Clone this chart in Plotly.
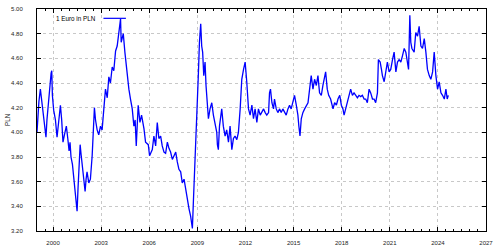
import plotly.graph_objects as go

# Decimal year and EUR/PLN rate
year = [
    1999.00, 1999.06, 1999.12, 1999.21, 1999.27, 1999.33, 1999.40, 1999.50, 1999.56, 1999.62,
    1999.69, 1999.75, 1999.81, 1999.88, 1999.92, 1999.96, 2000.04, 2000.15, 2000.25, 2000.31,
    2000.40, 2000.46, 2000.54, 2000.62, 2000.71, 2000.83, 2000.92, 2001.00, 2001.06, 2001.12,
    2001.21, 2001.29, 2001.38, 2001.46, 2001.50, 2001.56, 2001.62, 2001.69, 2001.75, 2001.83,
    2001.92, 2002.00, 2002.06, 2002.12, 2002.23, 2002.33, 2002.44, 2002.52, 2002.58, 2002.65,
    2002.75, 2002.85, 2002.96, 2003.06, 2003.17, 2003.27, 2003.38, 2003.48, 2003.58, 2003.69,
    2003.79, 2003.90, 2004.00, 2004.10, 2004.17, 2004.21, 2004.25, 2004.33, 2004.38, 2004.48,
    2004.62, 2004.73, 2004.83, 2004.94, 2005.04, 2005.12, 2005.19, 2005.31, 2005.42, 2005.52,
    2005.67, 2005.77, 2005.94, 2006.02, 2006.19, 2006.29, 2006.40, 2006.50, 2006.60, 2006.71,
    2006.81, 2006.92, 2007.02, 2007.13, 2007.23, 2007.33, 2007.44, 2007.54, 2007.65, 2007.75,
    2007.85, 2007.96, 2008.06, 2008.17, 2008.27, 2008.38, 2008.48, 2008.58, 2008.65, 2008.69,
    2008.75, 2008.85, 2008.90, 2008.96, 2009.00, 2009.06, 2009.13, 2009.17, 2009.21, 2009.27,
    2009.33, 2009.40, 2009.48, 2009.54, 2009.62, 2009.69, 2009.79, 2009.90, 2010.00, 2010.10,
    2010.21, 2010.25, 2010.31, 2010.38, 2010.42, 2010.52, 2010.62, 2010.73, 2010.83, 2010.94,
    2011.04, 2011.15, 2011.25, 2011.35, 2011.46, 2011.56, 2011.67, 2011.77, 2011.88, 2011.98,
    2012.08, 2012.19, 2012.29, 2012.40, 2012.50, 2012.60, 2012.71, 2012.81, 2012.92, 2013.02,
    2013.13, 2013.23, 2013.33, 2013.44, 2013.50, 2013.56, 2013.65, 2013.75, 2013.81, 2013.92,
    2014.02, 2014.13, 2014.23, 2014.33, 2014.44, 2014.54, 2014.65, 2014.75, 2014.85, 2014.96,
    2015.06, 2015.17, 2015.27, 2015.33, 2015.40, 2015.48, 2015.58, 2015.69, 2015.79, 2015.90,
    2016.00, 2016.10, 2016.21, 2016.31, 2016.42, 2016.52, 2016.62, 2016.73, 2016.83, 2016.94,
    2017.00, 2017.10, 2017.19, 2017.31, 2017.46, 2017.56, 2017.67, 2017.77, 2017.88, 2017.98,
    2018.08, 2018.15, 2018.25, 2018.35, 2018.46, 2018.56, 2018.67, 2018.77, 2018.88, 2018.98,
    2019.08, 2019.19, 2019.29, 2019.40, 2019.50, 2019.60, 2019.71, 2019.81, 2019.92, 2020.02,
    2020.12, 2020.23, 2020.29, 2020.40, 2020.48, 2020.54, 2020.65, 2020.75, 2020.85, 2020.96,
    2021.06, 2021.17, 2021.27, 2021.38, 2021.48, 2021.58, 2021.69, 2021.79, 2021.90, 2022.00,
    2022.10, 2022.17, 2022.25, 2022.31, 2022.38, 2022.52, 2022.62, 2022.73, 2022.83, 2022.94,
    2023.04, 2023.15, 2023.25, 2023.35, 2023.46, 2023.56, 2023.67, 2023.77, 2023.875, 2023.98,
    2024.08, 2024.19, 2024.29, 2024.40, 2024.50, 2024.58, 2024.65,
]
eur_pln = [
    4.00, 4.18, 4.25, 4.35, 4.28, 4.20, 4.12, 4.02, 3.96, 4.10,
    4.22, 4.30, 4.38, 4.48, 4.50, 4.30, 4.18, 4.10, 3.96, 4.05,
    4.15, 4.22, 4.10, 3.92, 3.98, 4.05, 3.95, 3.85, 3.92, 3.80,
    3.74, 3.62, 3.55, 3.42, 3.36, 3.55, 3.80, 3.90, 3.82, 3.72,
    3.58, 3.52, 3.62, 3.68, 3.59, 3.62, 3.81, 4.05, 4.20, 4.10,
    4.02, 3.98, 4.05, 4.02, 4.20, 4.35, 4.28, 4.45, 4.40, 4.53,
    4.50, 4.66, 4.70, 4.80, 4.84, 4.92, 4.73, 4.78, 4.80, 4.65,
    4.46, 4.35, 4.27, 4.19, 4.05, 4.10, 3.89, 4.22, 4.08, 4.14,
    4.03, 3.92, 3.90, 3.81, 3.86, 3.97, 3.89, 4.08, 3.95, 3.97,
    3.89, 3.84, 3.83, 3.92, 3.87, 3.84, 3.78, 3.81, 3.84, 3.76,
    3.70, 3.68, 3.59, 3.62, 3.54, 3.43, 3.38, 3.32, 3.27, 3.22,
    3.43, 3.75, 3.92, 4.05, 4.16, 4.46, 4.73, 4.82, 4.88, 4.70,
    4.65, 4.46, 4.57, 4.38, 4.19, 4.11, 4.19, 4.24, 4.14, 4.08,
    4.00, 3.90, 3.86, 4.05, 4.11, 4.19, 4.05, 3.97, 4.02, 3.92,
    4.05, 3.86, 3.95, 3.97, 3.94, 4.00, 4.19, 4.43, 4.51, 4.57,
    4.41, 4.19, 4.14, 4.22, 4.11, 4.19, 4.08, 4.19, 4.14, 4.16,
    4.19, 4.16, 4.14, 4.16, 4.32, 4.35, 4.24, 4.19, 4.27, 4.19,
    4.16, 4.19, 4.16, 4.19, 4.16, 4.14, 4.19, 4.22, 4.19, 4.24,
    4.30, 4.22, 4.14, 4.05, 3.97, 4.11, 4.16, 4.19, 4.22, 4.24,
    4.35, 4.46, 4.35, 4.43, 4.38, 4.46, 4.32, 4.30, 4.38, 4.46,
    4.49, 4.35, 4.30, 4.27, 4.19, 4.24, 4.22, 4.27, 4.30, 4.22,
    4.19, 4.14, 4.19, 4.24, 4.30, 4.35, 4.30, 4.32, 4.30, 4.28,
    4.30, 4.29, 4.30, 4.27, 4.27, 4.24, 4.35, 4.32, 4.27, 4.27,
    4.24, 4.32, 4.59, 4.57, 4.51, 4.46, 4.41, 4.49, 4.57, 4.49,
    4.51, 4.59, 4.65, 4.49, 4.57, 4.59, 4.57, 4.62, 4.68, 4.65,
    4.54, 4.51, 4.95, 4.73, 4.68, 4.65, 4.81, 4.78, 4.86, 4.70,
    4.68, 4.76, 4.65, 4.51, 4.46, 4.43, 4.49, 4.65, 4.46, 4.35,
    4.41, 4.32, 4.30, 4.27, 4.35, 4.27, 4.30,
]

series_name = "1 Euro in PLN"
y_title = "PLN"
x_ticks = [2000, 2003, 2006, 2009, 2012, 2015, 2018, 2021, 2024, 2027]
y_ticks = [3.2, 3.4, 3.6, 3.8, 4.0, 4.2, 4.4, 4.6, 4.8, 5.0]

FONT = "Liberation Sans, Arial, sans-serif"
BLUE = "#0000ff"

fig = go.Figure()
fig.add_trace(go.Scatter(
    x=year, y=eur_pln, mode="lines", name=series_name,
    line=dict(color=BLUE, width=1.3), showlegend=False,
))

# gnuplot-style key: text, then line sample to its right
fig.add_annotation(
    x=0.136, y=0.958, xref="paper", yref="paper", text=series_name,
    showarrow=False, xanchor="right", yanchor="middle",
    font=dict(family=FONT, size=6.3, color="black"),
)
fig.add_shape(type="line", xref="paper", yref="paper",
              x0=0.148, x1=0.198, y0=0.958, y1=0.958,
              line=dict(color=BLUE, width=1.2))

# y-axis title placed like gnuplot's ylabel
fig.add_annotation(
    x=0, y=0.5, xref="paper", yref="paper", text=y_title, xshift=-30,
    showarrow=False, textangle=-90, xanchor="center", yanchor="middle",
    font=dict(family=FONT, size=6.3, color="#222"),
)

axis_common = dict(
    showline=True, linecolor="black", linewidth=1, mirror="ticks",
    ticks="inside", tickcolor="black", tickwidth=1, automargin=False,
    showgrid=True, gridcolor="#c8c8c8", griddash="dot", gridwidth=1,
    zeroline=False, tickfont=dict(family=FONT, size=6, color="#222"),
)

fig.update_xaxes(
    range=[1999, 2027], tickmode="array", tickvals=x_ticks,
    ticktext=[str(t) for t in x_ticks], ticklen=4, ticklabelstandoff=6,
    minor=dict(dtick=0.5, tick0=1999, ticks="inside", ticklen=2,
               tickcolor="black", showgrid=False),
    **axis_common,
)
fig.update_yaxes(
    range=[3.2, 5.0], tickmode="array", tickvals=y_ticks,
    ticktext=["%.2f" % v for v in y_ticks], ticklen=4, ticklabelstandoff=12,
    **axis_common,
)

fig.update_layout(
    width=500, height=250,
    margin=dict(l=37, r=14, t=9, b=19),
    paper_bgcolor="white", plot_bgcolor="white",
)

fig.write_html("out.html")
